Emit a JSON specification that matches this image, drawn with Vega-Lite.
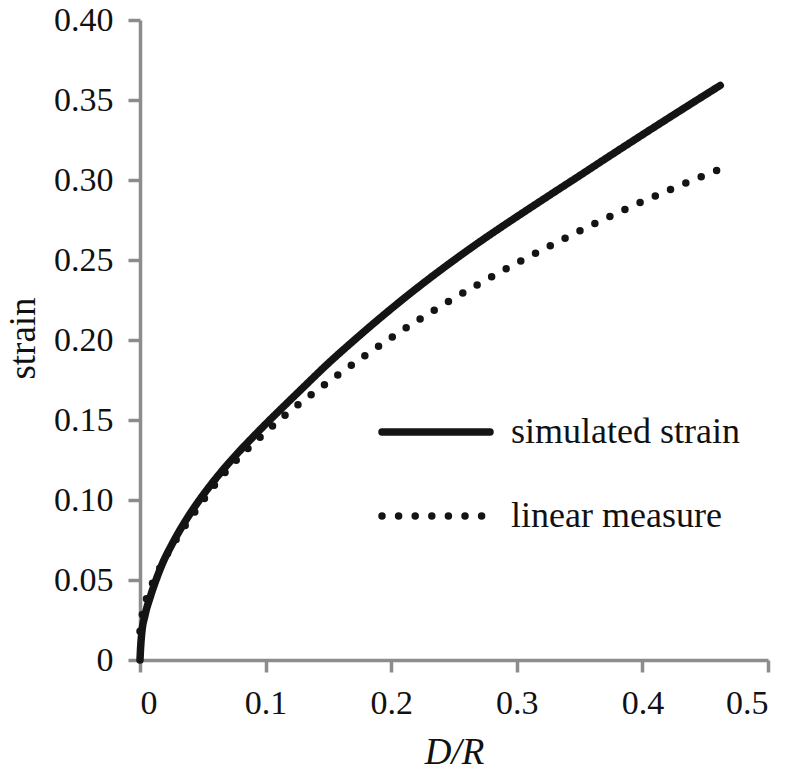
{
  "$schema": "https://vega.github.io/schema/vega-lite/v6.json",
  "autosize": {"type": "none"},
  "width": 628,
  "height": 640,
  "padding": {"left": 140, "top": 20, "right": 24, "bottom": 113},
  "background": "white",
  "config": {
    "view": {"stroke": null},
    "font": "Liberation Serif",
    "axis": {"grid": false, "domainColor": "#8c8c8c", "domainWidth": 3.5, "tickColor": "#8c8c8c", "tickWidth": 3.5, "tickSize": 12, "labelFont": "Liberation Serif", "labelFontSize": 34, "labelColor": "#111111", "titleFont": "Liberation Serif", "titleFontSize": 37, "titleFontWeight": "normal", "titleColor": "#111111"}
  },
  "data": {"values": [
    {"x": 0, "y": 0, "series": "simulated strain"},
    {"x": 0.0005, "y": 0.008, "series": "simulated strain"},
    {"x": 0.0013, "y": 0.016, "series": "simulated strain"},
    {"x": 0.004, "y": 0.028, "series": "simulated strain"},
    {"x": 0.008, "y": 0.039, "series": "simulated strain"},
    {"x": 0.013, "y": 0.0505, "series": "simulated strain"},
    {"x": 0.018, "y": 0.0605, "series": "simulated strain"},
    {"x": 0.025, "y": 0.0716, "series": "simulated strain"},
    {"x": 0.032, "y": 0.0815, "series": "simulated strain"},
    {"x": 0.04, "y": 0.0916, "series": "simulated strain"},
    {"x": 0.05, "y": 0.1029, "series": "simulated strain"},
    {"x": 0.06, "y": 0.1131, "series": "simulated strain"},
    {"x": 0.07, "y": 0.1225, "series": "simulated strain"},
    {"x": 0.08, "y": 0.1312, "series": "simulated strain"},
    {"x": 0.09, "y": 0.1394, "series": "simulated strain"},
    {"x": 0.10, "y": 0.1474, "series": "simulated strain"},
    {"x": 0.117, "y": 0.1605, "series": "simulated strain"},
    {"x": 0.13, "y": 0.1704, "series": "simulated strain"},
    {"x": 0.15, "y": 0.1855, "series": "simulated strain"},
    {"x": 0.17, "y": 0.1995, "series": "simulated strain"},
    {"x": 0.19, "y": 0.2130, "series": "simulated strain"},
    {"x": 0.21, "y": 0.2259, "series": "simulated strain"},
    {"x": 0.23, "y": 0.2382, "series": "simulated strain"},
    {"x": 0.25, "y": 0.2499, "series": "simulated strain"},
    {"x": 0.27, "y": 0.2611, "series": "simulated strain"},
    {"x": 0.29, "y": 0.2718, "series": "simulated strain"},
    {"x": 0.31, "y": 0.2822, "series": "simulated strain"},
    {"x": 0.33, "y": 0.2925, "series": "simulated strain"},
    {"x": 0.35, "y": 0.3027, "series": "simulated strain"},
    {"x": 0.37, "y": 0.3130, "series": "simulated strain"},
    {"x": 0.39, "y": 0.3232, "series": "simulated strain"},
    {"x": 0.41, "y": 0.3333, "series": "simulated strain"},
    {"x": 0.43, "y": 0.3433, "series": "simulated strain"},
    {"x": 0.45, "y": 0.3532, "series": "simulated strain"},
    {"x": 0.462, "y": 0.3591, "series": "simulated strain"},
    {"x": 0, "y": 0.018, "series": "linear measure"},
    {"x": 0.0024, "y": 0.031, "series": "linear measure"},
    {"x": 0.006, "y": 0.040, "series": "linear measure"},
    {"x": 0.0175, "y": 0.060, "series": "linear measure"},
    {"x": 0.03, "y": 0.077, "series": "linear measure"},
    {"x": 0.045, "y": 0.094, "series": "linear measure"},
    {"x": 0.061, "y": 0.111, "series": "linear measure"},
    {"x": 0.078, "y": 0.126, "series": "linear measure"},
    {"x": 0.098, "y": 0.141, "series": "linear measure"},
    {"x": 0.117, "y": 0.154, "series": "linear measure"},
    {"x": 0.14, "y": 0.1680, "series": "linear measure"},
    {"x": 0.16, "y": 0.1796, "series": "linear measure"},
    {"x": 0.18, "y": 0.1907, "series": "linear measure"},
    {"x": 0.20, "y": 0.2014, "series": "linear measure"},
    {"x": 0.22, "y": 0.2117, "series": "linear measure"},
    {"x": 0.24, "y": 0.2214, "series": "linear measure"},
    {"x": 0.271, "y": 0.2356, "series": "linear measure"},
    {"x": 0.30, "y": 0.2481, "series": "linear measure"},
    {"x": 0.33, "y": 0.2603, "series": "linear measure"},
    {"x": 0.36, "y": 0.2720, "series": "linear measure"},
    {"x": 0.39, "y": 0.2830, "series": "linear measure"},
    {"x": 0.42, "y": 0.2933, "series": "linear measure"},
    {"x": 0.44, "y": 0.2999, "series": "linear measure"},
    {"x": 0.462, "y": 0.3068, "series": "linear measure"}
  ]},
  "mark": {"type": "line", "color": "#141414", "strokeCap": "round", "strokeJoin": "round", "interpolate": "monotone"},
  "encoding": {
    "x": {"field": "x", "type": "quantitative",
      "scale": {"domain": [0, 0.5], "nice": false, "zero": true},
      "axis": {"values": [0, 0.1, 0.2, 0.3, 0.4, 0.5], "labelExpr": "datum.value == 0 ? '0' : format(datum.value, '.1f')", "labelPadding": 14, "title": "D/R", "titleFontStyle": "italic", "titleBaseline": "alphabetic", "titleY": 103}},
    "y": {"field": "y", "type": "quantitative",
      "scale": {"domain": [0, 0.4], "nice": false},
      "axis": {"values": [0, 0.05, 0.1, 0.15, 0.2, 0.25, 0.3, 0.35, 0.4], "labelExpr": "datum.value == 0 ? '0' : format(datum.value, '.2f')", "labelPadding": 15, "title": "strain", "titleBaseline": "alphabetic", "titleX": -106, "titleY": 318, "titleAngle": -90}},
    "detail": {"field": "series"},
    "strokeDash": {"field": "series", "type": "nominal",
      "scale": {"domain": ["simulated strain", "linear measure"], "range": [[1, 0], [0, 16.6]]},
      "legend": {"title": null, "orient": "none", "legendX": 238, "legendY": 354, "padding": 0, "symbolType": "stroke", "symbolSize": 11664, "symbolStrokeColor": "#141414", "symbolStrokeWidth": 7.5, "labelFont": "Liberation Serif", "labelFontSize": 36, "labelColor": "#111111", "labelOffset": 17, "labelLimit": 0, "rowPadding": 8,
        "encode": {"symbols": {"update": {"strokeCap": {"value": "round"}}}}}},
    "strokeWidth": {"field": "series", "type": "nominal",
      "scale": {"domain": ["simulated strain", "linear measure"], "range": [7.5, 7.5]},
      "legend": null}
  }
}
